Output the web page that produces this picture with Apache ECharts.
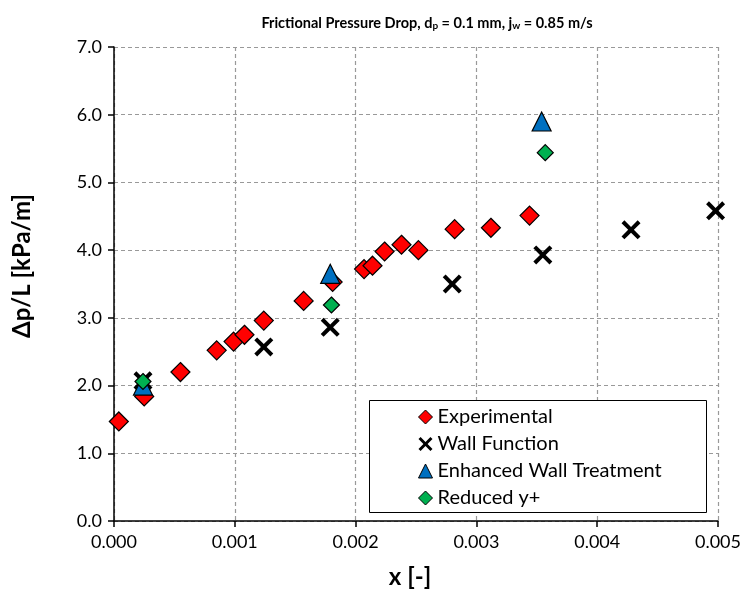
<!DOCTYPE html>
<html>
<head>
<meta charset="utf-8">
<script src="https://cdn.jsdelivr.net/npm/echarts@6/dist/echarts.min.js"></script>
<style>html,body{margin:0;padding:0;background:#fff}#c{width:746px;height:596px}</style>
</head>
<body>
<div id="c"></div>
<script>
// Frictional pressure drop vs. quality x
const expX = [0.00004, 0.00025, 0.00055, 0.00085, 0.00099, 0.00108, 0.00124, 0.00157, 0.00181, 0.00207, 0.00214, 0.00224, 0.00238, 0.00252, 0.00282, 0.00312, 0.00344];
const expY = [1.47, 1.84, 2.20, 2.52, 2.65, 2.75, 2.96, 3.25, 3.53, 3.72, 3.77, 3.98, 4.08, 4.00, 4.31, 4.33, 4.51];
const wallFnX = [0.00024, 0.00124, 0.00179, 0.00280, 0.00355, 0.00428, 0.00498];
const wallFnY = [2.07, 2.57, 2.86, 3.50, 3.93, 4.30, 4.58];
const ewtX = [0.00024, 0.00179, 0.00354];
const ewtY = [2.00, 3.65, 5.90];
const redX = [0.00024, 0.00180, 0.00357];
const redY = [2.06, 3.19, 5.44];
const seriesNames = ['Experimental', 'Wall Function', 'Enhanced Wall Treatment', 'Reduced y+'];

const pairs = (xs, ys) => xs.map((x, i) => [x, ys[i]]);
const FONT = 'Lato';
// bold "x" cross drawn as a filled outline
const crossPath = 'path://M0,3L3,0L10,7L17,0L20,3L13,10L20,17L17,20L10,13L3,20L0,17L7,10Z';

const chart = echarts.init(document.getElementById('c'));
chart.setOption({
  backgroundColor: '#fff',
  animation: false,
  textStyle: { fontFamily: FONT },
  title: {
    text: '{b|Frictional Pressure Drop, d}{s|p}{b| = 0.1 mm, j}{s|w}{b| = 0.85 m/s}',
    left: 422, top: 10, textAlign: 'center',
    textStyle: {
      rich: {
        b: { fontFamily: FONT, fontWeight: 'bold', fontSize: 14.5, color: '#000' },
        s: { fontFamily: FONT, fontWeight: 'bold', fontSize: 10, color: '#000', verticalAlign: 'bottom', padding: [6, 0, 0, 0] }
      }
    }
  },
  grid: { left: 114, right: 28, top: 47, bottom: 75 },
  xAxis: {
    type: 'value', min: 0, max: 0.005, interval: 0.001,
    name: 'x [-]', nameLocation: 'middle', nameGap: 44,
    nameTextStyle: { fontFamily: FONT, fontWeight: 'bold', fontSize: 24, color: '#000', padding: [0, 12, 0, 0] },
    axisLine: { show: true, onZero: false, lineStyle: { color: '#000', width: 1.5 } },
    axisTick: { show: true, inside: false, length: 6, lineStyle: { color: '#000', width: 1.5 } },
    axisLabel: { fontFamily: FONT, fontSize: 18, color: '#000', margin: 12, formatter: v => v.toFixed(3) },
    splitLine: { show: true, lineStyle: { color: '#999', type: [4, 3], width: 1.2 } }
  },
  yAxis: {
    type: 'value', min: 0, max: 7, interval: 1,
    name: 'Δp/L [kPa/m]', nameLocation: 'middle', nameGap: 80,
    nameTextStyle: { fontFamily: FONT, fontWeight: 'bold', fontSize: 24, color: '#000', padding: [0, 0, 0, 36] },
    axisLine: { show: true, lineStyle: { color: '#000', width: 1.5 } },
    axisTick: { show: true, inside: false, length: 6, lineStyle: { color: '#000', width: 1.5 } },
    axisLabel: { fontFamily: FONT, fontSize: 18, color: '#000', margin: 12, formatter: v => v.toFixed(1) },
    splitLine: { show: true, lineStyle: { color: '#999', type: [4, 3], width: 1.2 } }
  },
  graphic: [{
    type: 'rect', left: 369, top: 400, z: 50,
    shape: { width: 337, height: 112 },
    style: { fill: '#fff', stroke: '#000', lineWidth: 1 }
  }],
  legend: {
    left: 413, top: 402, orient: 'vertical', itemGap: 7, z: 60,
    itemWidth: 14, itemHeight: 14,
    textStyle: { fontFamily: FONT, fontSize: 20, color: '#000' },
    data: [
      { name: seriesNames[0], icon: 'diamond', itemStyle: { color: '#ff0000', borderColor: '#000', borderWidth: 1 } },
      { name: seriesNames[1], icon: crossPath, itemStyle: { color: '#000' } },
      { name: seriesNames[2], icon: 'triangle', itemStyle: { color: '#0070c0', borderColor: '#000', borderWidth: 1 } },
      { name: seriesNames[3], icon: 'diamond', itemStyle: { color: '#00b050', borderColor: '#000', borderWidth: 1 } }
    ]
  },
  series: [
    {
      name: seriesNames[0], type: 'scatter', z: 2, symbol: 'diamond', symbolSize: 19,
      itemStyle: { color: '#ff0000', borderColor: '#000', borderWidth: 1.2, opacity: 1 },
      data: pairs(expX, expY)
    },
    {
      name: seriesNames[1], type: 'scatter', z: 3, symbol: crossPath, symbolSize: 19,
      itemStyle: { color: '#000', opacity: 1 },
      data: pairs(wallFnX, wallFnY)
    },
    {
      name: seriesNames[2], type: 'scatter', z: 4, symbol: 'triangle', symbolSize: 19,
      itemStyle: { color: '#0070c0', borderColor: '#000', borderWidth: 1.2, opacity: 1 },
      data: pairs(ewtX, ewtY)
    },
    {
      name: seriesNames[3], type: 'scatter', z: 5, symbol: 'diamond', symbolSize: 16,
      itemStyle: { color: '#00b050', borderColor: '#000', borderWidth: 1.2, opacity: 1 },
      data: pairs(redX, redY)
    }
  ]
});
</script>
</body>
</html>
